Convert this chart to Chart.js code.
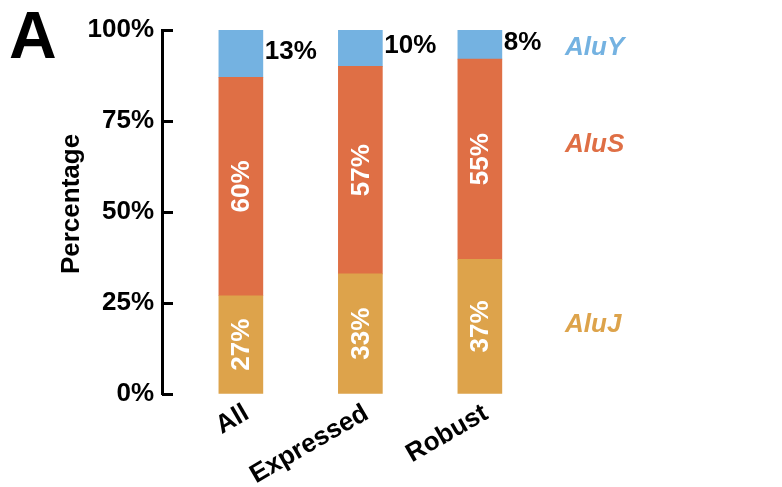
<!DOCTYPE html>
<html>
<head>
<meta charset="utf-8">
<script src="https://cdn.jsdelivr.net/npm/chart.js@4"></script>
<style>
  html, body { margin: 0; padding: 0; background: #fff; }
</style>
</head>
<body>
<canvas id="grafico" width="782" height="487"></canvas>
<script>
const categorias = ['All', 'Expressed', 'Robust'];
const aluJ = [27, 33, 37];
const aluS = [60, 57, 55];
const aluY = [13, 10, 8];
const yTicks = [0, 25, 50, 75, 100];

const CORES = { AluJ: '#DDA34B', AluS: '#DF6F45', AluY: '#74B2E1' };
const FONTE = '"Liberation Sans", Arial, Helvetica, sans-serif';

// posicoes dos rotulos laterais (legenda) e do titulo do eixo
const LEGENDA = { x: 565, y: { AluY: 48, AluS: 145, AluJ: 325 } };
const TITULO_Y = { x: 72, y: 204 };

function serie(valores) {
    return valores.map((v, i) => ({ x: i, y: v }));
}

const rotulos = {
    id: 'rotulos',
    afterDatasetsDraw(chart) {
        const ctx = chart.ctx;
        ctx.save();
        chart.data.datasets.forEach((ds, i) => {
            const meta = chart.getDatasetMeta(i);
            meta.data.forEach((bar, j) => {
                const txt = ds.data[j].y + '%';
                const meio = (bar.y + bar.base) / 2;
                ctx.font = 'bold 26px ' + FONTE;
                ctx.textBaseline = 'middle';
                if (ds.label == 'AluY') {
                    ctx.fillStyle = '#000';
                    ctx.textAlign = 'left';
                    ctx.fillText(txt, bar.x + bar.width / 2 + 2, meio - 2);
                } else {
                    ctx.save();
                    ctx.translate(bar.x, meio);
                    ctx.rotate(-Math.PI / 2);
                    ctx.fillStyle = '#fff';
                    ctx.textAlign = 'center';
                    ctx.fillText(txt, 0, 1);
                    ctx.restore();
                }
            });
        });
        ctx.restore();
    },
    afterDraw(chart) {
        const ctx = chart.ctx;
        const y = chart.scales.y;
        const area = chart.chartArea;
        ctx.save();

        // ticks para dentro
        ctx.strokeStyle = '#000';
        ctx.lineWidth = 3;
        y.ticks.forEach((t) => {
            const py = Math.round(y.getPixelForValue(t.value)) + 0.5;
            ctx.beginPath();
            ctx.moveTo(area.left, py);
            ctx.lineTo(area.left + 11, py);
            ctx.stroke();
        });

        // titulo do eixo y
        ctx.save();
        ctx.translate(TITULO_Y.x, TITULO_Y.y);
        ctx.rotate(-Math.PI / 2);
        ctx.font = 'bold 26px ' + FONTE;
        ctx.fillStyle = '#000';
        ctx.textAlign = 'center';
        ctx.textBaseline = 'middle';
        ctx.fillText('Percentage', 0, 0);
        ctx.restore();

        // letra do painel
        ctx.font = 'bold 66px ' + FONTE;
        ctx.fillStyle = '#000';
        ctx.textAlign = 'left';
        ctx.textBaseline = 'alphabetic';
        ctx.fillText('A', 9, 58);

        // legenda lateral
        ctx.font = 'italic bold 26px ' + FONTE;
        ctx.textBaseline = 'middle';
        chart.data.datasets.forEach((ds) => {
            ctx.fillStyle = ds.backgroundColor;
            ctx.fillText(ds.label, LEGENDA.x, LEGENDA.y[ds.label]);
        });
        ctx.restore();
    }
};

const __grafico = new Chart(document.getElementById('grafico'), {
    type: 'bar',
    data: {
        datasets: [
            { label: 'AluJ', data: serie(aluJ), backgroundColor: CORES.AluJ },
            { label: 'AluS', data: serie(aluS), backgroundColor: CORES.AluS },
            { label: 'AluY', data: serie(aluY), backgroundColor: CORES.AluY },
        ]
    },
    options: {
        responsive: false,
        animation: false,
        barThickness: 44,
        layout: { padding: { top: 30, left: 0, right: 240, bottom: 0 } },
        plugins: { legend: { display: false }, tooltip: { enabled: false } },
        scales: {
            x: {
                type: 'linear',
                stacked: true,
                offset: false,
                min: -0.66,
                max: 2.52,
                grid: { display: false, offset: false },
                border: { display: false },
                afterBuildTicks: (s) => { s.ticks = categorias.map((c, i) => ({ value: i })); },
                afterFit: (s) => { s.height = 93; },
                ticks: {
                    autoSkip: false,
                    minRotation: 30,
                    maxRotation: 30,
                    padding: -4,
                    labelOffset: 6,
                    color: '#000',
                    font: { family: FONTE, size: 26, weight: 'bold' },
                    callback: (v) => categorias[v]
                }
            },
            y: {
                stacked: true,
                min: 0,
                max: 100,
                afterBuildTicks: (s) => { s.ticks = yTicks.map((v) => ({ value: v })); },
                afterFit: (s) => { s.width = 162; },
                grid: { drawOnChartArea: false, drawTicks: false },
                border: { display: true, color: '#000', width: 3 },
                ticks: {
                    padding: 8,
                    color: '#000',
                    font: { family: FONTE, size: 26, weight: 'bold' },
                    callback: (v) => v + '%'
                }
            }
        }
    },
    plugins: [rotulos]
});
</script>
</body>
</html>
